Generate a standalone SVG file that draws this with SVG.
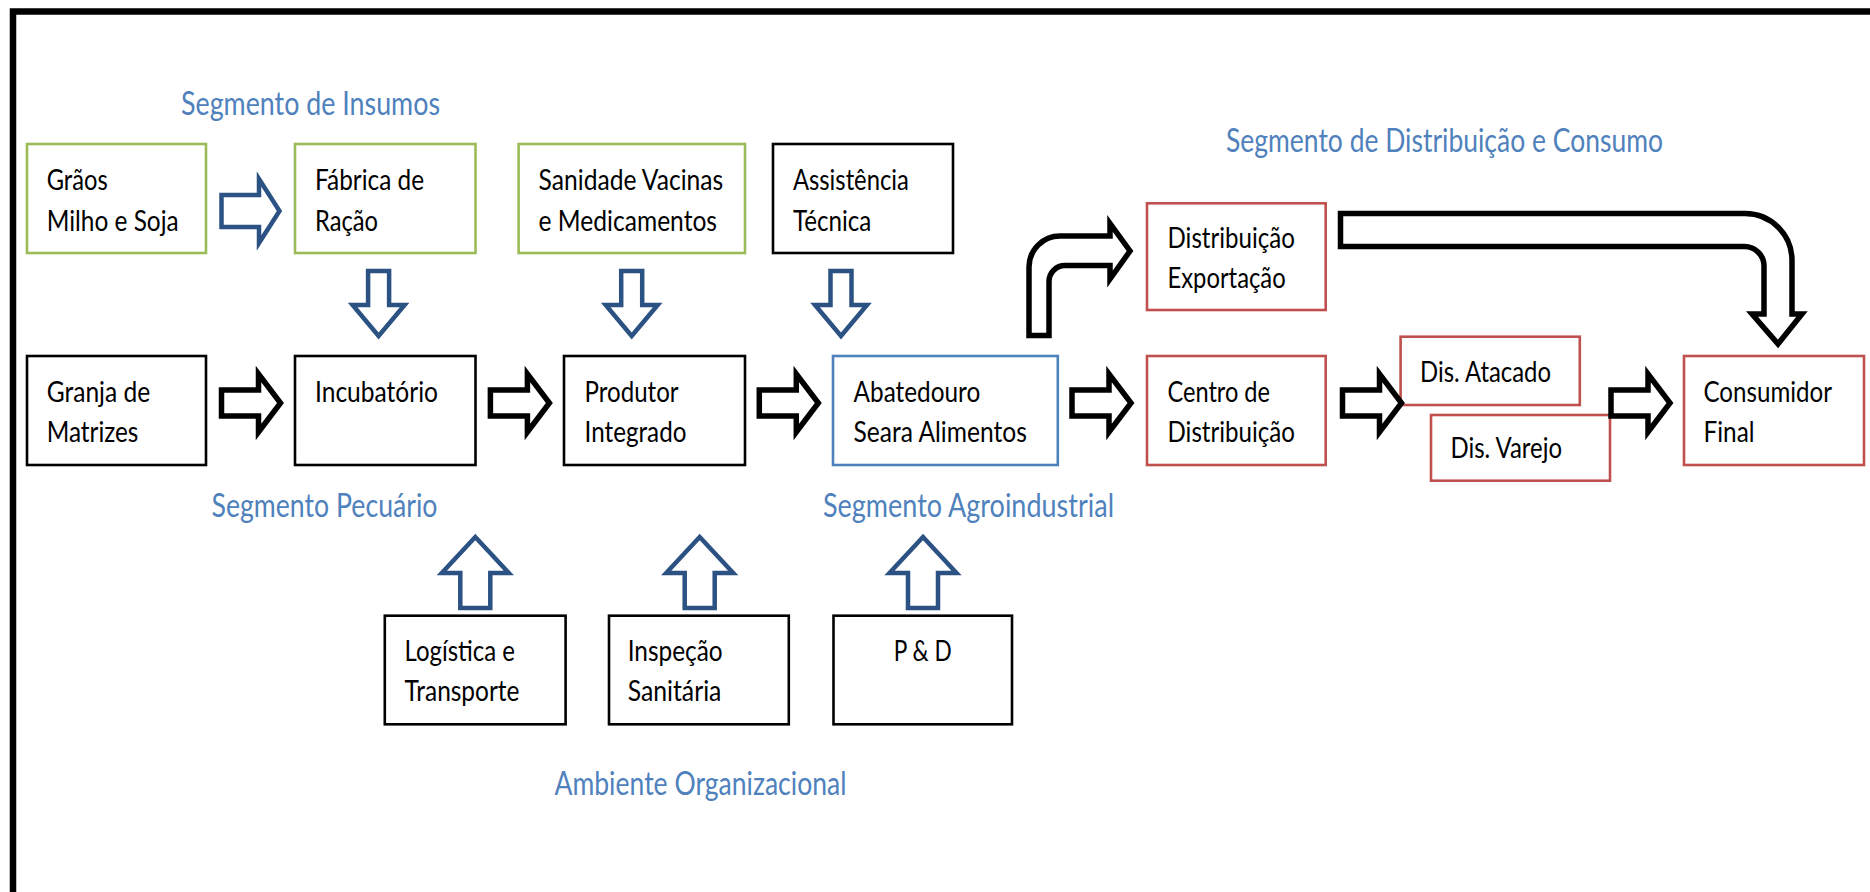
<svg xmlns="http://www.w3.org/2000/svg" width="1870" height="892" viewBox="0 0 1870 892">
  <style>
    .box { fill: #ffffff; stroke-width: 2.6; }
    .k { stroke: #000000; }
    .g { stroke: #9bbb59; }
    .r { stroke: #c0504d; }
    .b { stroke: #4f81bd; }
    .t { font-family: Lato, "Liberation Sans", sans-serif; font-size: 28px; fill: #000000; }
    .seg { font-family: Lato, "Liberation Sans", sans-serif; font-size: 32.5px; fill: #4f81bd; }
    .arrK { fill: #ffffff; stroke: #000000; stroke-width: 5.5; stroke-linejoin: miter; stroke-miterlimit: 10; }
    .arrB { fill: #ffffff; stroke: #2b5283; stroke-width: 4.5; stroke-linejoin: miter; stroke-miterlimit: 10; }
  </style>
  <defs>
    <!-- block arrow pointing right, origin at left end of shaft, vertical centre -->
    <path id="rightK" d="M0,-13 H37 V-29 L59,0 L37,29 V13 H0 Z"/>
    <path id="rightB" d="M0,-16 H37.5 V-32 L58,0 L37.5,32 V16 H0 Z"/>
    <!-- block arrow pointing down, origin at top centre of shaft -->
    <path id="downB" d="M-10.5,0 V34 H-26 L0,65 L26,34 H10.5 V0 Z"/>
    <!-- block arrow pointing up, origin at bottom centre of shaft -->
    <path id="upB" d="M-15,0 V-35 H-33.5 L0,-71 L33.5,-35 H15 V0 Z"/>
  </defs>

  <rect width="1870" height="892" fill="#ffffff"/>
  <!-- outer frame -->
  <path d="M13,892 V11.5 H1870" fill="none" stroke="#000000" stroke-width="6.5"/>

  <!-- segment labels -->
  <g id="labels">
    <text class="seg" x="181" y="115" textLength="259" lengthAdjust="spacingAndGlyphs">Segmento de Insumos</text>
    <text class="seg" x="1226" y="151.5" textLength="437" lengthAdjust="spacingAndGlyphs">Segmento de Distribuição e Consumo</text>
    <text class="seg" x="211.5" y="517" textLength="226" lengthAdjust="spacingAndGlyphs">Segmento Pecuário</text>
    <text class="seg" x="823" y="517" textLength="291" lengthAdjust="spacingAndGlyphs">Segmento Agroindustrial</text>
    <text class="seg" x="554.5" y="795" textLength="292" lengthAdjust="spacingAndGlyphs">Ambiente Organizacional</text>
  </g>

  <!-- input segment -->
  <g id="graos">
    <rect class="box g" x="27" y="144" width="179" height="109"/>
    <text class="t" x="46.7" y="190" textLength="61" lengthAdjust="spacingAndGlyphs">Grãos</text>
    <text class="t" x="46.7" y="230.5" textLength="132" lengthAdjust="spacingAndGlyphs">Milho e Soja</text>
  </g>
  <g id="fabrica">
    <rect class="box g" x="295" y="144" width="180.5" height="109"/>
    <text class="t" x="315" y="190" textLength="109" lengthAdjust="spacingAndGlyphs">Fábrica de</text>
    <text class="t" x="315" y="230.5" textLength="63" lengthAdjust="spacingAndGlyphs">Ração</text>
  </g>
  <g id="sanidade">
    <rect class="box g" x="518.6" y="144" width="226.4" height="109"/>
    <text class="t" x="538.6" y="190" textLength="184.6" lengthAdjust="spacingAndGlyphs">Sanidade Vacinas</text>
    <text class="t" x="538.6" y="230.5" textLength="178.4" lengthAdjust="spacingAndGlyphs">e Medicamentos</text>
  </g>
  <g id="assistencia">
    <rect class="box k" x="773" y="144" width="180" height="109"/>
    <text class="t" x="792.9" y="190" textLength="116" lengthAdjust="spacingAndGlyphs">Assistência</text>
    <text class="t" x="792.9" y="230.5" textLength="78.5" lengthAdjust="spacingAndGlyphs">Técnica</text>
  </g>

  <!-- livestock / agroindustrial chain -->
  <g id="granja">
    <rect class="box k" x="27" y="356" width="179" height="109"/>
    <text class="t" x="46.7" y="401.7" textLength="103.5" lengthAdjust="spacingAndGlyphs">Granja de</text>
    <text class="t" x="46.7" y="441.7" textLength="91.7" lengthAdjust="spacingAndGlyphs">Matrizes</text>
  </g>
  <g id="incubatorio">
    <rect class="box k" x="295" y="356" width="180.5" height="109"/>
    <text class="t" x="315" y="401.7" textLength="123" lengthAdjust="spacingAndGlyphs">Incubatório</text>
  </g>
  <g id="produtor">
    <rect class="box k" x="564" y="356" width="181" height="109"/>
    <text class="t" x="584.6" y="401.7" textLength="94" lengthAdjust="spacingAndGlyphs">Produtor</text>
    <text class="t" x="584.6" y="441.7" textLength="101.8" lengthAdjust="spacingAndGlyphs">Integrado</text>
  </g>
  <g id="abatedouro">
    <rect class="box b" x="833" y="356" width="224.8" height="109"/>
    <text class="t" x="853.6" y="401.7" textLength="126.7" lengthAdjust="spacingAndGlyphs">Abatedouro</text>
    <text class="t" x="853.6" y="441.7" textLength="173.2" lengthAdjust="spacingAndGlyphs">Seara Alimentos</text>
  </g>

  <!-- distribution segment -->
  <g id="exportacao">
    <rect class="box r" x="1147" y="203.3" width="178.7" height="106.7"/>
    <text class="t" x="1167.5" y="247.5" textLength="127.5" lengthAdjust="spacingAndGlyphs">Distribuição</text>
    <text class="t" x="1167.5" y="287.5" textLength="118.2" lengthAdjust="spacingAndGlyphs">Exportação</text>
  </g>
  <g id="centro">
    <rect class="box r" x="1147" y="356" width="178.7" height="109"/>
    <text class="t" x="1167.5" y="401.7" textLength="102.5" lengthAdjust="spacingAndGlyphs">Centro de</text>
    <text class="t" x="1167.5" y="441.7" textLength="127.5" lengthAdjust="spacingAndGlyphs">Distribuição</text>
  </g>
  <g id="atacado">
    <rect class="box r" x="1400.6" y="336.7" width="179.2" height="68.3"/>
    <text class="t" x="1420" y="381.7" textLength="131" lengthAdjust="spacingAndGlyphs">Dis. Atacado</text>
  </g>
  <g id="varejo">
    <rect class="box r" x="1431" y="415" width="179" height="65.7"/>
    <text class="t" x="1450.5" y="458.3" textLength="111.5" lengthAdjust="spacingAndGlyphs">Dis. Varejo</text>
  </g>
  <g id="consumidor">
    <rect class="box r" x="1684" y="356" width="180" height="109"/>
    <text class="t" x="1703.5" y="401.7" textLength="128.5" lengthAdjust="spacingAndGlyphs">Consumidor</text>
    <text class="t" x="1703.5" y="441.7" textLength="51" lengthAdjust="spacingAndGlyphs">Final</text>
  </g>

  <!-- organizational environment -->
  <g id="logistica">
    <rect class="box k" x="384.8" y="615.7" width="180.8" height="108.6"/>
    <text class="t" x="404.5" y="661" textLength="110.5" lengthAdjust="spacingAndGlyphs">Logística e</text>
    <text class="t" x="404.5" y="701" textLength="115" lengthAdjust="spacingAndGlyphs">Transporte</text>
  </g>
  <g id="inspecao">
    <rect class="box k" x="609" y="615.7" width="179.8" height="108.6"/>
    <text class="t" x="627.7" y="661" textLength="95" lengthAdjust="spacingAndGlyphs">Inspeção</text>
    <text class="t" x="627.7" y="701" textLength="93.7" lengthAdjust="spacingAndGlyphs">Sanitária</text>
  </g>
  <g id="pd">
    <rect class="box k" x="833.5" y="615.7" width="178.5" height="108.6"/>
    <text class="t" x="893.7" y="661" textLength="58" lengthAdjust="spacingAndGlyphs">P &amp; D</text>
  </g>

  <!-- connectors -->
  <g id="connectors">
    <use href="#rightB" class="arrB" transform="translate(221.5,211)"/>
    <use href="#downB" class="arrB" transform="translate(378.6,271)"/>
    <use href="#downB" class="arrB" transform="translate(631.7,271)"/>
    <use href="#downB" class="arrB" transform="translate(841,271)"/>

    <use href="#upB" class="arrB" transform="translate(475.3,608)"/>
    <use href="#upB" class="arrB" transform="translate(699.7,608)"/>
    <use href="#upB" class="arrB" transform="translate(923,608)"/>

    <use href="#rightK" class="arrK" transform="translate(221.5,403)"/>
    <use href="#rightK" class="arrK" transform="translate(490.4,403)"/>
    <use href="#rightK" class="arrK" transform="translate(759.3,403)"/>
    <use href="#rightK" class="arrK" transform="translate(1072,403)"/>
    <use href="#rightK" class="arrK" transform="translate(1342.5,403)"/>
    <use href="#rightK" class="arrK" transform="translate(1611,403)"/>

    <!-- bent arrow: abatedouro up to exportação -->
    <path class="arrK" d="M1029,335.5 V267 A31,31 0 0 1 1060,236 H1110 V223.5 L1130,251 L1110,279 V265.5 H1065 A16,16 0 0 0 1049,281.5 V335.5 Z"/>
    <!-- u-turn arrow: exportação over to consumidor final -->
    <path class="arrK" d="M1340.5,213.5 H1745 A47,47 0 0 1 1792,260.5 V314 H1802 L1778,344 L1752,314 H1764 V266 A19.5,19.5 0 0 0 1744.5,246.5 H1340.5 Z"/>
  </g>
</svg>
